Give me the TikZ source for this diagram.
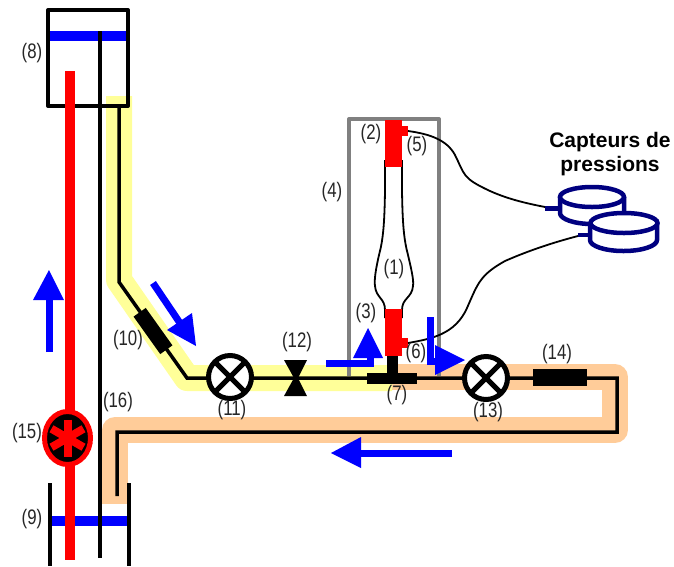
\documentclass[tikz,border=0pt]{standalone}
\usetikzlibrary{shapes.geometric,calc}
\usepackage{fontspec}
\setmainfont{Liberation Sans}
\newfontfamily\labfont[FakeStretch=0.8]{Liberation Sans}
\definecolor{bandyellow}{HTML}{FFFF99}
\definecolor{bandorange}{HTML}{FFCC99}
\definecolor{sensorblue}{HTML}{000080}
\tikzset{
  lab/.style={font=\labfont\fontsize{21}{23}\selectfont,text=black!85,inner sep=0pt},
  band/.style={line width=26pt,line join=round},
  pipe/.style={black,line width=3.5pt,line join=miter},
  thinwire/.style={black,line width=1.8pt},
  liquid/.style={blue,line width=10pt},
  redblock/.style={fill=red,draw=none,rectangle,inner sep=0pt,outer sep=0pt},
  blackblock/.style={fill=black,draw=none,rectangle,inner sep=0pt,outer sep=0pt},
  valve/.style={circle,draw=black,fill=white,line width=5pt,minimum size=43pt,inner sep=0pt,outer sep=0pt},
  vcross/.style={black,line width=5pt},
  shaft/.style={blue,line width=7pt},
  head/.style={fill=blue,draw=none},
  sensor/.style={draw=sensorblue,line width=4.5pt,fill=white},
  flask/.style={black,line width=1.8pt}
}
\begin{document}
\begin{tikzpicture}[x=1pt,y=-1pt]
\useasboundingbox (0,0) rectangle (674,566);
\fill[white] (0,0) rectangle (674,566);

% coloured bands
\draw[band,bandorange] (115,504) -- (115,430) -- (615,430) -- (615,377) -- (392,377);
\draw[band,bandyellow] (119,96) -- (119,280) -- (187,378) -- (392,378);

% gray enclosure
\draw[draw=gray,line width=4pt,line join=round] (349,376) -- (349,119) -- (439,119) -- (439,376);

% top tank
\draw[liquid] (49,36) -- (126,36);
\draw[black,line width=4pt,line join=round] (48,10) rectangle (128,106);

% bottom tank
\draw[liquid] (48,521) -- (130,521);
\draw[black,line width=3.5pt] (50,483) -- (50,566);
\draw[black,line width=3.5pt] (129,483) -- (129,566);

% central line and red line
\draw[black,line width=4pt] (100,31) -- (100,558);
\draw[red,line width=10pt] (70,71) -- (70,560);

% pump
\node[ellipse,draw=red,fill=black,line width=5pt,minimum width=46pt,minimum height=53pt,inner sep=0pt,outer sep=0pt] (pump15) at (67.5,438) {};
\foreach \a in {90,30,-30}{
  \draw[red,line width=8pt] ($(pump15.center)+(\a:18.5pt)$) -- ($(pump15.center)+(\a+180:18.5pt)$);
}

% pipework
\coordinate (p0) at (119,106);
\coordinate (p1) at (119,282);
\coordinate (p2) at (187,378);
\coordinate (p3) at (617,378);
\coordinate (p4) at (617,432);
\coordinate (p5) at (117,432);
\coordinate (p6) at (117,496);
\draw[pipe] (p0) -- (p1) -- (p2) -- (p3) -- (p4) -- (p5) -- (p6);

% filter, valves
\node[blackblock,minimum width=46pt,minimum height=15pt,rotate=-54.5] (filter10) at (153,331) {};
\node[valve] (valve11) at (230,377) {};
\draw[vcross] (valve11.45) -- (valve11.225);
\draw[vcross] (valve11.135) -- (valve11.315);
\node[valve] (valve13) at (486,378) {};
\draw[vcross] (valve13.45) -- (valve13.225);
\draw[vcross] (valve13.135) -- (valve13.315);
\fill[black] (284,360) -- (307,360) -- (298,378) -- (307,396) -- (284,396) -- (294,378) -- cycle;
\node[blackblock,minimum width=54pt,minimum height=17pt] (filter14) at (560,377) {};

% test section
\draw[flask] (385,160) -- (385,190) .. controls (384.5,225) and (383,240) .. (379,255)
  .. controls (376,268) and (374,280) .. (375,286)
  .. controls (376,298) and (385,298) .. (385,310) -- (385,318);
\draw[flask] (402,160) -- (402,190) .. controls (402.5,225) and (404,240) .. (408,255)
  .. controls (411,268) and (414,280) .. (413,286)
  .. controls (412,298) and (402,298) .. (402,310) -- (402,318);
\node[redblock,minimum width=17pt,minimum height=47pt] (red2) at (393.5,143.5) {};
\node[redblock,minimum width=6pt,minimum height=10pt] (nub5) at (405,131) {};
\node[redblock,minimum width=17pt,minimum height=47pt] (red3) at (393.5,332.5) {};
\node[redblock,minimum width=6pt,minimum height=10pt] (nub6) at (405,343) {};
\node[blackblock,minimum width=11pt,minimum height=18pt] (stem7) at (392.5,365) {};
\node[blackblock,minimum width=50pt,minimum height=11pt] (tee7) at (392,378.5) {};

% sensors
\coordinate (s1) at (592,197);
\coordinate (s2) at (624,223);
\draw[sensorblue,line width=5pt] (545,208) -- (562,208);
\draw[sensor] (560,197) -- (560,213) arc[start angle=180,end angle=360,x radius=32,y radius=-11] -- (624,197);
\draw[sensor] (s1) ellipse[x radius=32pt,y radius=10pt];
\draw[sensorblue,line width=4pt] (578,235) -- (592,235);
\path[fill=white] (590,223) -- (590,240) arc[start angle=180,end angle=360,x radius=33.5,y radius=-11] -- (657,223) -- cycle;
\draw[sensorblue,line width=4.5pt] (590,223) -- (590,240) arc[start angle=180,end angle=360,x radius=33.5,y radius=-11] -- (657,223);
\draw[sensor] (s2) ellipse[x radius=33.5pt,y radius=10pt];

% capillaries
\draw[thinwire] (nub5.east) .. controls (430,134) and (447,140) .. (455,155)
  .. controls (465,175) and (462,178) .. (490,191) .. controls (510,200) and (530,204) .. (545,207);
\draw[thinwire] (nub6.east) .. controls (430,339) and (455,335) .. (467,308)
  .. controls (478,283) and (480,275) .. (505,261) .. controls (530,250) and (555,242) .. (578,236);

% blue arrows
\draw[shaft] (49.5,352) -- (49.5,298);
\fill[head] (49,270) -- (64,300) -- (33,300) -- cycle;

\draw[shaft] (153,283) -- (182,326);
\fill[head] (192,313) -- (196,346) -- (167,330) -- cycle;

\draw[shaft,line join=miter] (326,363) -- (370,363) -- (370,355);
\fill[head] (368,328) -- (383,358) -- (353,358) -- cycle;

\draw[shaft,line join=miter] (430,317) -- (430,361) -- (438,361);
\fill[head] (465,360) -- (435,375) -- (435,345) -- cycle;

\draw[shaft] (452,453.5) -- (358,453.5);
\fill[head] (331,453) -- (361,437) -- (361,468) -- cycle;

% labels
\node[lab] (l1) at (394,269) {(1)};
\node[lab] (l2) at (371,134) {(2)};
\node[lab] (l3) at (366,313) {(3)};
\node[lab] (l4) at (332,192) {(4)};
\node[lab] (l5) at (417,146) {(5)};
\node[lab] (l6) at (416,353) {(6)};
\node[lab] (l7) at (397,395) {(7)};
\node[lab] (l8) at (32,53) {(8)};
\node[lab] (l9) at (32,519) {(9)};
\node[lab] (l10) at (128,340) {(10)};
\node[lab] (l11) at (232,410) {(11)};
\node[lab] (l12) at (297,342) {(12)};
\node[lab] (l13) at (488,412) {(13)};
\node[lab] (l14) at (557,354) {(14)};
\node[lab] (l15) at (27,433) {(15)};
\node[lab] (l16) at (118,402) {(16)};
\node[font=\bfseries\fontsize{21}{24}\selectfont,align=center,inner sep=0pt] (title) at (610,154) {Capteurs de\\pressions};
\end{tikzpicture}
\end{document}
